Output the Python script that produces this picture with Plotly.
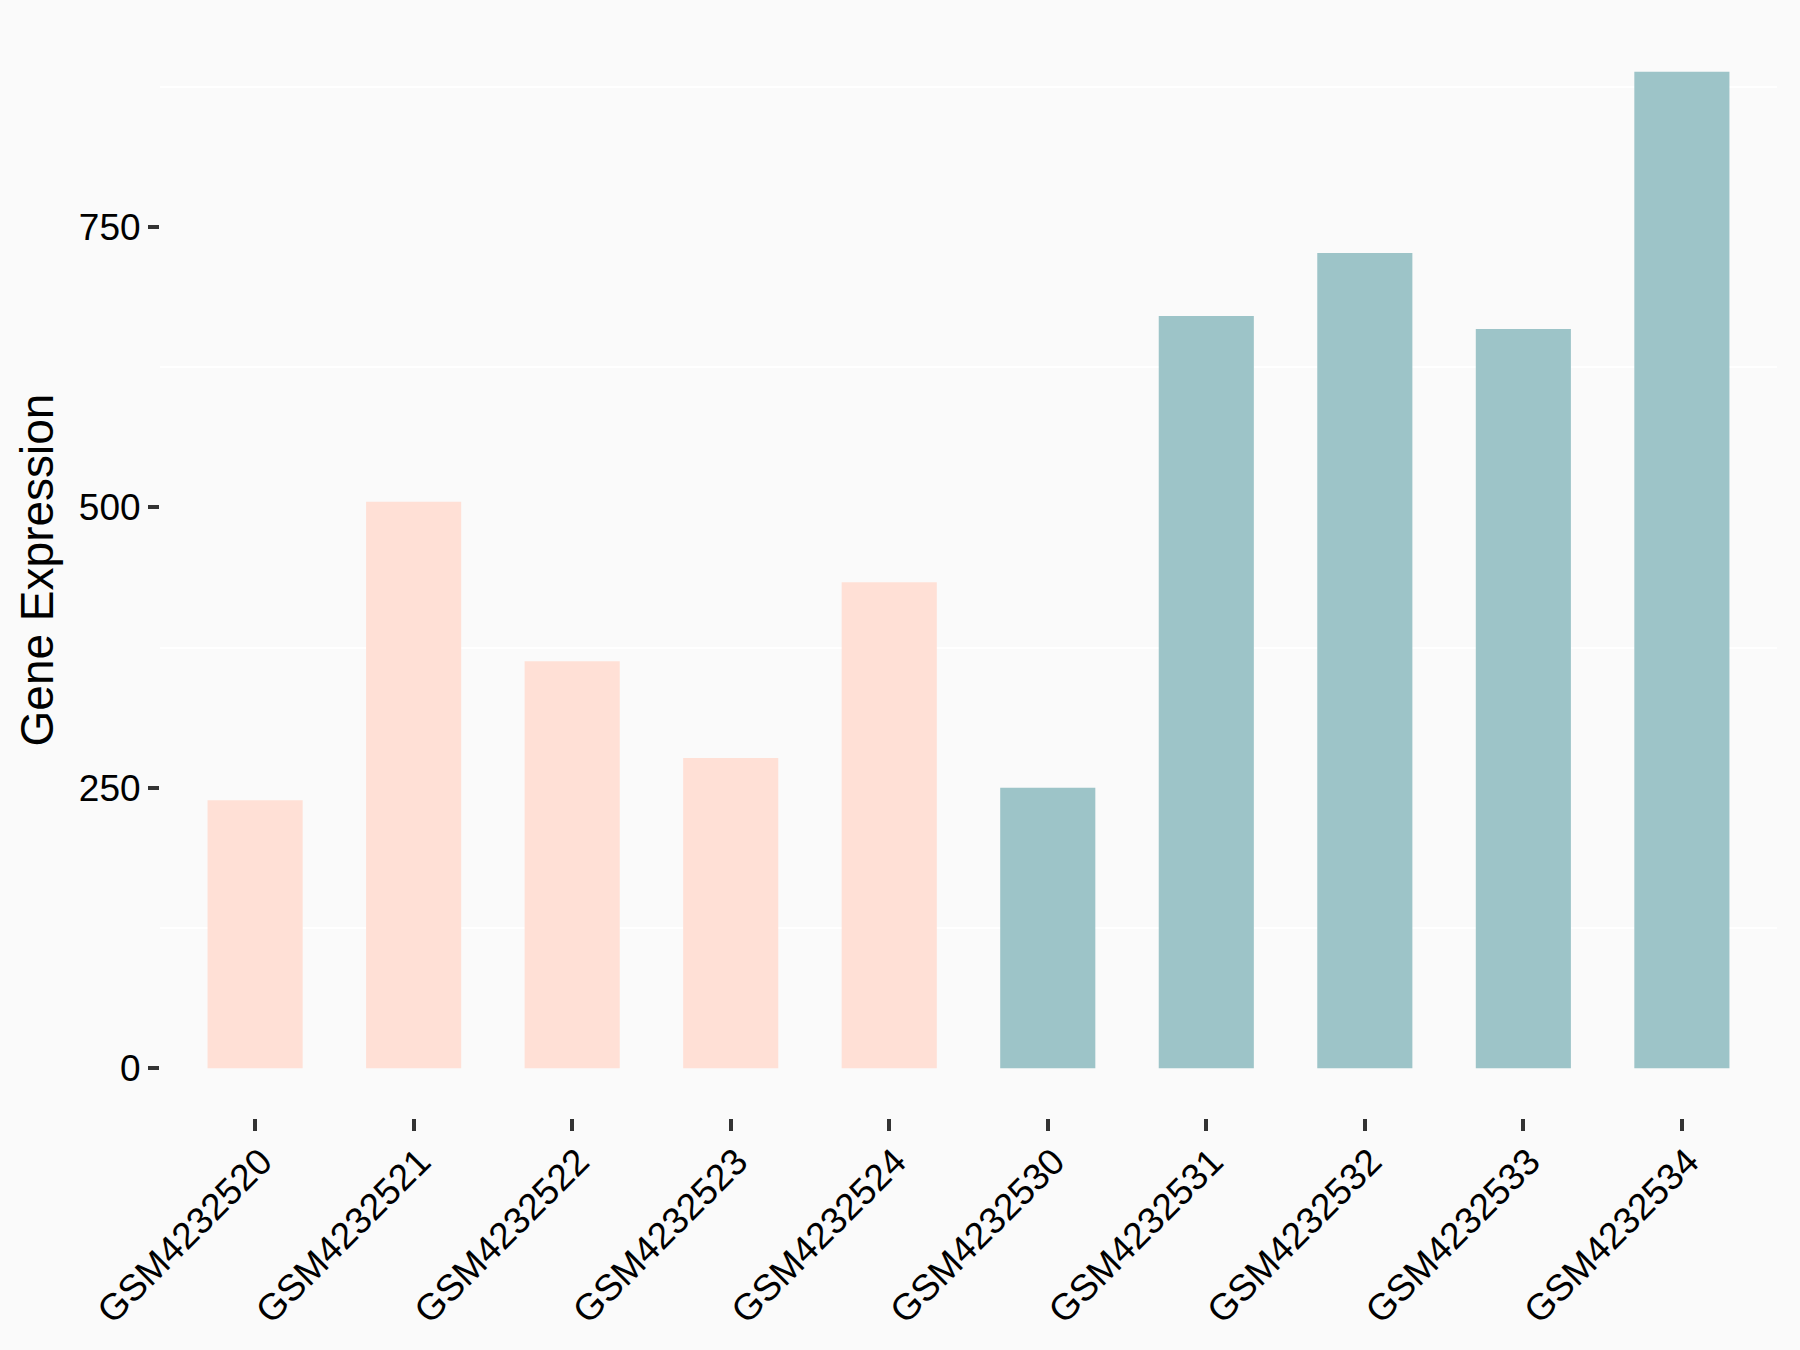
import plotly.graph_objects as go

samples = ["GSM4232520", "GSM4232521", "GSM4232522", "GSM4232523", "GSM4232524",
           "GSM4232530", "GSM4232531", "GSM4232532", "GSM4232533", "GSM4232534"]
expression = [238.8, 505.0, 362.7, 276.6, 433.3, 250.0, 670.6, 726.8, 659.0, 888.3]
groups = ["A", "A", "A", "A", "A", "B", "B", "B", "B", "B"]
group_colors = {"A": "#FFE0D6", "B": "#9DC4C8"}

colors = [group_colors[g] for g in groups]

ymax = max(expression)
pad = 0.05 * ymax

fig = go.Figure()
fig.add_trace(go.Bar(
    x=samples, y=expression,
    marker=dict(color=colors, line=dict(width=0)),
    width=0.6,
    showlegend=False,
))

FONT = "Liberation Sans, Arial, sans-serif"

fig.update_layout(
    width=1800, height=1350,
    paper_bgcolor="#FAFAFA", plot_bgcolor="#FAFAFA",
    margin=dict(l=160, r=23, t=22, b=232),
    font=dict(family=FONT, color="black"),
    bargap=0.4,
)

fig.update_xaxes(
    type="category",
    range=[-0.6, len(samples) - 1 + 0.6],
    showgrid=False, zeroline=False, showline=False,
    ticks="outside", ticklen=12, tickwidth=4, tickcolor="#333333",
    tickangle=-45,
    tickfont=dict(size=37, family=FONT, color="black"),
    ticklabelstandoff=-6, ticklabelshift=6,
    automargin=False,
)

fig.update_yaxes(
    range=[-pad, ymax + pad],
    tick0=0, dtick=250,
    showgrid=False, zeroline=False, showline=False,
    ticks="outside", ticklen=11, tickwidth=4, tickcolor="#333333",
    tickfont=dict(size=37, family=FONT, color="black"),
    minor=dict(dtick=125, tick0=0, showgrid=True, gridcolor="white", gridwidth=2, ticks=""),
    title=dict(text="Gene Expression", font=dict(size=46, family=FONT, color="black"), standoff=10),
    automargin=False,
)

fig.write_html(
    "out.html",
    config={"displayModeBar": False},
    post_script="document.body.style.margin='0';document.body.style.background='#FAFAFA';",
)
